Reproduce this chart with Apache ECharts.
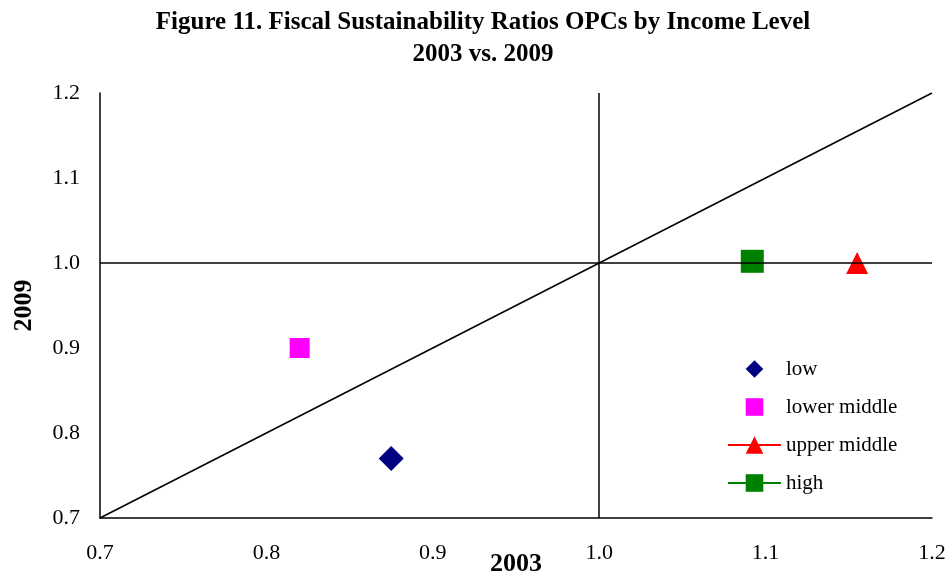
<!DOCTYPE html>
<html>
<head>
<meta charset="utf-8">
<script src="https://cdn.jsdelivr.net/npm/echarts@6/dist/echarts.min.js"></script>
<style>
  html, body { margin: 0; padding: 0; background: #fff; }
  #main { width: 952px; height: 578px; }
</style>
</head>
<body>
<div id="main"></div>
<script>
// values: [2003, 2009]
const low = [[0.875, 0.77]];
const lowerMiddle = [[0.82, 0.90]];
const upperMiddle = [[1.155, 1.0]];
const high = [[1.092, 1.002]];
const diagonal = [[0.7, 0.7], [1.2, 1.2]];
const crossX = 1.0, crossY = 1.0;   // quadrant lines
const axisMin = 0.7, axisMax = 1.2, axisStep = 0.1;

const font = 'Liberation Serif, Times New Roman, serif';
let myChart = echarts.init(document.getElementById('main'));
let option = {
    animation: false,
    textStyle: { fontFamily: font },
    title: {
        text: 'Figure 11. Fiscal Sustainability Ratios OPCs by Income Level\n2003 vs. 2009',
        left: 478, top: 2, textAlign: 'center',
        textStyle: { fontFamily: font, fontWeight: 'bold', fontSize: 25, lineHeight: 32, color: '#000' }
    },
    grid: { left: 100, right: 20, top: 93, bottom: 60, outerBoundsMode: 'none', containLabel: false },
    legend: {
        orient: 'vertical',
        left: 727, top: 358, padding: 0,
        itemWidth: 53, itemHeight: 22, itemGap: 16,
        data: ['low', 'lower middle', 'upper middle', 'high'],
        textStyle: { fontFamily: font, fontSize: 21, lineHeight: 22, color: '#000' }
    },
    xAxis: {
        type: 'value', min: axisMin, max: axisMax, interval: axisStep,
        name: '2003', nameLocation: 'middle', nameGap: 33, nameMoveOverlap: false,
        nameTextStyle: { fontFamily: font, fontWeight: 'bold', fontSize: 26, color: '#000' },
        axisLine: { onZero: false, lineStyle: { color: '#000', width: 1.5 } },
        axisTick: { show: false },
        splitLine: { show: false },
        axisLabel: { margin: 24, fontSize: 22, color: '#000', fontFamily: font, formatter: v => v.toFixed(1) }
    },
    yAxis: {
        type: 'value', min: axisMin, max: axisMax, interval: axisStep,
        name: '2009', nameLocation: 'middle', nameGap: 63, nameRotate: 90, nameMoveOverlap: false,
        nameTextStyle: { fontFamily: font, fontWeight: 'bold', fontSize: 26, color: '#000' },
        axisLine: { show: true, onZero: false, lineStyle: { color: '#000', width: 1.5 } },
        axisTick: { show: false },
        splitLine: { show: false },
        axisLabel: { margin: 20, fontSize: 22, color: '#000', fontFamily: font, formatter: v => v.toFixed(1) }
    },
    series: [
        {
            name: 'diagonal', type: 'line', data: diagonal, symbol: 'none', silent: true,
            lineStyle: { color: '#000', width: 1.5 },
            markLine: {
                silent: true, symbol: 'none', label: { show: false },
                lineStyle: { color: '#000', width: 1.5, type: 'solid' },
                data: [{ xAxis: crossX }, { yAxis: crossY }]
            },
            z: 1
        },
        {
            name: 'low', type: 'line', data: low,
            symbol: 'diamond', symbolSize: 25, showSymbol: true,
            lineStyle: { opacity: 0 },
            itemStyle: { color: '#000080' }, z: 3
        },
        {
            name: 'lower middle', type: 'line', data: lowerMiddle,
            symbol: 'rect', symbolSize: 20, showSymbol: true,
            lineStyle: { opacity: 0 },
            itemStyle: { color: '#ff00ff' }, z: 3
        },
        {
            name: 'upper middle', type: 'line', data: upperMiddle,
            symbol: 'triangle', symbolSize: 22, showSymbol: true,
            lineStyle: { color: '#ff0000', width: 2 },
            itemStyle: { color: '#ff0000' }, z: 3
        },
        {
            name: 'high', type: 'line', data: high,
            symbol: 'rect', symbolSize: 23, showSymbol: true,
            lineStyle: { color: '#008000', width: 2 },
            itemStyle: { color: '#008000' }, z: 3
        }
    ]
};
myChart.setOption(option);
</script>
</body>
</html>
